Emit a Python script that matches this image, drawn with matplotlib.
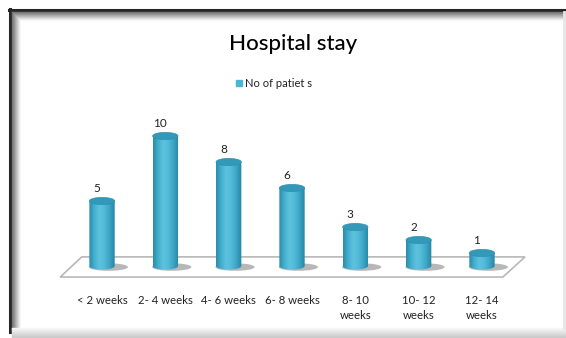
import numpy as np
import matplotlib
matplotlib.use("Agg")
import matplotlib.pyplot as plt
from matplotlib.patches import Rectangle, Ellipse, Polygon, PathPatch
from matplotlib.path import Path
from matplotlib.colors import LinearSegmentedColormap

# data
categories = ["< 2 weeks", "2- 4 weeks", "4- 6 weeks", "6- 8 weeks",
              "8- 10\nweeks", "10- 12\nweeks", "12- 14\nweeks"]
patients = [5, 10, 8, 6, 3, 2, 1]
legend_label = "No of patiet s"
title = "Hospital stay"

W, H = 566, 338
fig = plt.figure(figsize=(W / 100, H / 100), dpi=100)
fig.patch.set_facecolor("white")
plt.rcParams["font.family"] = ["Lato", "DejaVu Sans"]

# frame of the pasted chart
frame = fig.add_axes([0, 0, 1, 1])
frame.set_xlim(0, W)
frame.set_ylim(H, 0)
frame.axis("off")
# dark outer lines
frame.plot([9, W], [10, 10], color="0.15", lw=2.2)
frame.plot([10, 10], [9, 332], color="0.15", lw=2.2)
# soft shading inward
for i in range(9):
    g = 0.45 + i * 0.065
    frame.plot([12 + i, W], [12 + i, 12 + i], color=str(min(g, 1)), lw=1)
    frame.plot([12 + i, 12 + i], [12 + i, 330], color=str(min(g, 1)), lw=1)
# light bottom band
for i in range(10):
    g = 0.97 - i * 0.02
    frame.plot([12, W], [328 + i, 328 + i], color=str(g), lw=1)
frame.plot([564, 564], [12, 328], color="0.9", lw=2)

frame.text(293, 44, title, ha="center", va="center", fontsize=16,
           fontweight="medium", color="black")
frame.add_patch(Rectangle((236, 80), 6, 6, color="#4bb6d3"))
frame.text(245, 83.5, legend_label, ha="left", va="center", fontsize=8, color="#222222")

# plot area in data coords
L, R = 38.7, 545.3
yb, yt = 285.5, 110
ax = fig.add_axes([L / W, (H - yb) / H, (R - L) / W, (yb - yt) / H])
ax.set_xlim(-1, 7)
ax.set_ylim(-1.5, 12)
ax.axis("off")

# floor
floor = Polygon([(-0.66, -0.85), (6.33, -0.85), (6.68, 0.7), (-0.32, 0.7)],
                closed=True, facecolor="white", edgecolor="#b8b8b8", lw=1.2, zorder=1)
ax.add_patch(floor)

cmap = LinearSegmentedColormap.from_list(
    "cyl", ["#2a8cab", "#44b0cf", "#5ec2de", "#52bad8", "#3ba4c4", "#2784a2"])
bw = 0.4
eh = 0.55
for i, v in enumerate(patients):
    # shadow
    ax.add_patch(Ellipse((i + 0.1, -0.08), bw * 1.55, eh * 1.05, color="#7d7d7d",
                         alpha=0.55, zorder=2, lw=0))
    verts = [(i - bw / 2, v), (i - bw / 2, 0)]
    t = np.linspace(np.pi, 2 * np.pi, 30)
    verts += [(i + bw / 2 * np.cos(a), eh / 2 * np.sin(a)) for a in t]
    verts += [(i + bw / 2, v), (i - bw / 2, v)]
    clip = Path(verts)
    patch = PathPatch(clip, facecolor="none", edgecolor="none")
    ax.add_patch(patch)
    grad = np.linspace(0, 1, 64).reshape(1, -1)
    im = ax.imshow(grad, cmap=cmap, aspect="auto", extent=(i - bw / 2, i + bw / 2, -eh, v),
                   zorder=3, interpolation="bilinear")
    im.set_clip_path(patch)
    ax.add_patch(Ellipse((i, v), bw, eh, facecolor="#3399b8", edgecolor="#2f8fae",
                         lw=0.5, zorder=4))
    ax.text(i - 0.08, v + 0.55, str(v), ha="center", va="bottom", fontsize=8.5, color="#222222")
    ax.text(i, -2.2, categories[i], ha="center", va="top", fontsize=8.2,
            color="#222222", linespacing=1.45)

fig.savefig("out.png", dpi=100, facecolor="white")
